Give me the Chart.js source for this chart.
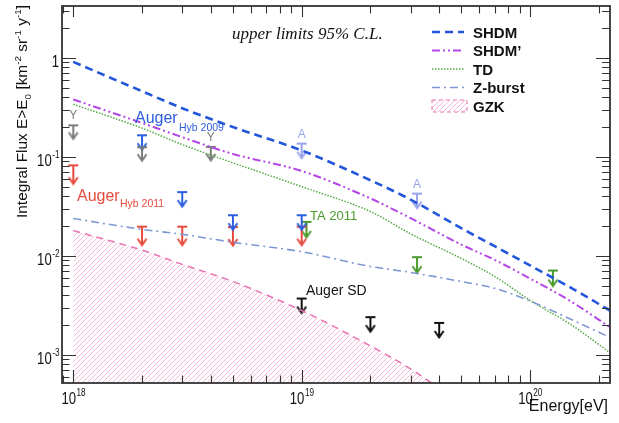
<!DOCTYPE html>
<html>
<head>
<meta charset="utf-8">
<script src="https://cdn.jsdelivr.net/npm/chart.js@4.4.1/dist/chart.umd.min.js"></script>
<style>
  html, body { margin: 0; padding: 0; background: #fff; }
  canvas { display: block; }
</style>
</head>
<body>
<canvas id="fluxChart" width="619" height="423"></canvas>
<script>
// model curves: integral flux above E0, km^-2 sr^-1 y^-1
const energy    = [1e18, 2e18, 3e18, 5e18, 1e19, 2e19, 3e19, 5e19, 7e19, 1e20, 1.5e20, 2.24e20];
const shdm      = [0.91, 0.46, 0.31, 0.20, 0.116, 0.058, 0.037, 0.019, 0.0125, 0.0080, 0.0048, 0.0028];
const shdmPrime = [0.38, 0.22, 0.158, 0.107, 0.072, 0.038, 0.024, 0.013, 0.0091, 0.0059, 0.0035, 0.0019];
const td        = [0.34, 0.195, 0.133, 0.087, 0.050, 0.028, 0.0167, 0.0094, 0.0062, 0.00355, 0.00204, 0.00105];
const zburst    = [0.0238, 0.0185, 0.0165, 0.0137, 0.011, 0.0078, 0.0068, 0.0055, 0.0047, 0.0035, 0.0023, 0.0015];
const gzkEnergy = [1e18, 2e18, 3e18, 5e18, 1e19, 2e19, 3e19, 4e19];
const gzk       = [0.018, 0.0114, 0.0082, 0.0055, 0.0028, 0.00123, 0.00072, 0.00046];

// upper limits (95% C.L.)
const yakutskE  = [1e18, 2e18, 4e18];
const yakutskF  = [0.208, 0.125, 0.126];
const hyb2009E  = [2e18, 3e18, 5e18, 1e19];
const hyb2009F  = [0.165, 0.044, 0.0257, 0.0257];
const agasaE    = [1e19, 3.2e19];
const agasaF    = [0.136, 0.0425];
const hyb2011E  = [1e18, 2e18, 3e18, 5e18, 1e19];
const hyb2011F  = [0.082, 0.0197, 0.0197, 0.0195, 0.0197];
const ta2011E   = [1.05e19, 3.2e19, 1.26e20];
const ta2011F   = [0.022, 0.0097, 0.0071];
const augerSdE  = [1e19, 2e19, 4e19];
const augerSdF  = [0.0037, 0.0024, 0.0021];

const xTicks = [1e18, 1e19, 1e20];
const xTickExp = ['18', '19', '20'];
const yTicks = [1e-3, 1e-2, 1e-1, 1];
const yTickExp = ['-3', '-2', '-1', null];
const legendLabels = ['SHDM', 'SHDM\u2019', 'TD', 'Z-burst', 'GZK'];

const SANS = '"Liberation Sans", Arial, sans-serif';

function pts(xs, ys) { return xs.map((v, i) => ({ x: v, y: ys[i] })); }

// light pink "////" hatch
function hatch(color) {
  const c = document.createElement('canvas');
  c.width = 5; c.height = 5;
  const g = c.getContext('2d');
  g.strokeStyle = color; g.lineWidth = 0.9;
  g.beginPath();
  g.moveTo(0, 5); g.lineTo(5, 0);
  g.moveTo(-1, 1); g.lineTo(1, -1);
  g.moveTo(4, 6); g.lineTo(6, 4);
  g.stroke();
  return g.createPattern(c, 'repeat');
}

// T bar at the limit with an arrow pointing down
function arrowMark(color, len) {
  const w = 14, h = 2 * len + 4;
  const c = document.createElement('canvas');
  c.width = w; c.height = h;
  const g = c.getContext('2d');
  const top = h / 2, tip = top + len;
  g.strokeStyle = color; g.lineWidth = 2;
  g.beginPath();
  g.moveTo(2, top); g.lineTo(12, top);
  g.moveTo(7, top); g.lineTo(7, tip);
  g.moveTo(2.5, tip - 7); g.lineTo(7, tip - 0.5); g.lineTo(11.5, tip - 7);
  g.stroke();
  return c;
}

function curve(label, xs, ys, color, dash, width) {
  return {
    label, data: pts(xs, ys), borderColor: color, borderDash: dash, borderWidth: width,
    pointRadius: 0, fill: false, cubicInterpolationMode: 'monotone'
  };
}

function limits(label, xs, ys, color, len, marks) {
  return {
    label, data: pts(xs, ys), showLine: false, pointRadius: 4,
    pointStyle: arrowMark(color, len), markText: marks, markColor: color
  };
}

const gzkFill = hatch('rgba(240,125,185,0.6)');

const datasets = [
  Object.assign(curve('GZK', gzkEnergy, gzk, '#e874b4', [7, 5], 1.5), { fill: 'start', backgroundColor: gzkFill }),
  curve('Z-burst', energy, zburst, '#7d97d2', [8, 4, 2, 4], 1.6),
  curve('TD', energy, td, '#55a845', [1.5, 1.5], 1.5),
  curve('SHDM\u2019', energy, shdmPrime, '#b446e6', [8, 3, 2, 3, 2, 3], 2),
  curve('SHDM', energy, shdm, '#2456dc', [8, 5], 2.6),
  limits('Yakutsk', yakutskE, yakutskF, '#7c7c7c', 14, ['Y', '', 'Y']),
  limits('Auger Hyb 2009', hyb2009E, hyb2009F, '#2c5ee0', 15),
  limits('AGASA', agasaE, agasaF, '#97a3ec', 15, ['A', 'A']),
  limits('Auger Hyb 2011', hyb2011E, hyb2011F, '#e84a3e', 19),
  limits('TA 2011', ta2011E, ta2011F, '#4b9b2c', 16),
  limits('Auger SD', augerSdE, augerSdF, '#111111', 15)
];

function text(ctx, s, x, y, font, color, align, sx) {
  ctx.save();
  ctx.font = font; ctx.fillStyle = color;
  ctx.textAlign = align || 'left'; ctx.textBaseline = 'alphabetic';
  ctx.translate(x, y); ctx.scale(sx || 1, 1);
  ctx.fillText(s, 0, 0);
  ctx.restore();
}

// "10" with a superscript exponent, anchored at x by align
function powLabel(ctx, exp, x, y, align) {
  const sx = 0.82;
  if (exp === null) { text(ctx, '1', x, y, '16px ' + SANS, '#111', align === 'center' ? 'center' : 'right', sx); return; }
  ctx.font = '16px ' + SANS; const wb = ctx.measureText('10').width * sx;
  ctx.font = '10px ' + SANS; const we = ctx.measureText(exp).width * sx;
  const x0 = align === 'center' ? x - (wb + we) / 2 : x - wb - we;
  text(ctx, '10', x0, y, '16px ' + SANS, '#111', 'left', sx);
  text(ctx, exp, x0 + wb + 0.5, y - 8, '10px ' + SANS, '#111', 'left', sx);
}

const annotations = {
  id: 'annotations',
  afterDatasetsDraw(chart) {
    const ctx = chart.ctx;
    chart.data.datasets.forEach((ds, i) => {
      if (!ds.markText) return;
      chart.getDatasetMeta(i).data.forEach((el, j) => {
        const m = ds.markText[j];
        if (m) text(ctx, m, el.x, el.y - 6, '12px ' + SANS, ds.markColor, 'center');
      });
    });
    text(ctx, 'Auger', 135, 123, '16px ' + SANS, '#2c5ee0');
    text(ctx, 'Hyb 2009', 179, 131, '10.5px ' + SANS, '#2c5ee0');
    text(ctx, 'Auger', 77, 201, '16px ' + SANS, '#e84a3e');
    text(ctx, 'Hyb 2011', 120, 207, '10.5px ' + SANS, '#e84a3e');
    text(ctx, 'TA 2011', 310, 220, '13px ' + SANS, '#4b9b2c');
    text(ctx, 'Auger SD', 306, 295, '14px ' + SANS, '#111');
    text(ctx, 'upper limits 95% C.L.', 232, 39, 'italic 17px "Liberation Serif", serif', '#111');
  }
};

const axisFrame = {
  id: 'axisFrame',
  afterDraw(chart) {
    const { ctx, chartArea: a, scales: { x, y } } = chart;
    ctx.save();
    ctx.strokeStyle = '#333';
    ctx.lineWidth = 1.1;
    ctx.beginPath();
    for (let d = 17; d <= 20; d++) {
      for (let m = 1; m <= 9; m++) {
        const v = m * Math.pow(10, d);
        if (v < x.min || v > x.max) continue;
        const px = Math.round(x.getPixelForValue(v)) + 0.5;
        ctx.moveTo(px, a.bottom); ctx.lineTo(px, a.bottom - (m === 1 ? 13 : 7.5));
        ctx.moveTo(px, a.top); ctx.lineTo(px, a.top + (m === 1 ? 11 : 7.5));
      }
    }
    for (let d = -4; d <= 0; d++) {
      for (let m = 1; m <= 9; m++) {
        const v = m * Math.pow(10, d);
        if (v < y.min || v > y.max) continue;
        const py = Math.round(y.getPixelForValue(v)) + 0.5;
        ctx.moveTo(a.left, py); ctx.lineTo(a.left + (m === 1 ? 14 : 7.5), py);
        ctx.moveTo(a.right, py); ctx.lineTo(a.right - (m === 1 ? 14 : 8), py);
      }
    }
    ctx.stroke();
    ctx.lineWidth = 1.8;
    ctx.strokeRect(a.left, a.top, a.right - a.left, a.bottom - a.top);
    ctx.restore();

    xTicks.forEach((v, i) => powLabel(ctx, xTickExp[i], x.getPixelForValue(v), a.bottom + 21, 'center'));
    yTicks.forEach((v, i) => powLabel(ctx, yTickExp[i], 59, y.getPixelForValue(v) + 9, 'right'));

    text(ctx, 'Energy[eV]', 608, 411, '16px ' + SANS, '#111', 'right');

    // y title, rotated, with sub/superscripts
    const parts = [['Integral Flux E>E', 0, 14], ['0', 4, 9], [' [km', 0, 14], ['-2', -6, 9],
                   [' sr', 0, 14], ['-1', -6, 9], [' y', 0, 14], ['-1', -6, 9], [']', 0, 14]];
    let total = 0;
    parts.forEach(p => { ctx.font = p[2] + 'px ' + SANS; total += ctx.measureText(p[0]).width; });
    const k = 213 / total;
    ctx.save();
    ctx.translate(27, 218);
    ctx.rotate(-Math.PI / 2);
    ctx.scale(k, 1);
    ctx.fillStyle = '#111';
    let cx = 0;
    parts.forEach(p => {
      ctx.font = p[2] + 'px ' + SANS;
      ctx.fillText(p[0], cx, p[1]);
      cx += ctx.measureText(p[0]).width;
    });
    ctx.restore();

    // legend
    const rows = [32, 50.5, 69, 87.5, 106];
    legendLabels.forEach((lab, i) => {
      const ds = chart.data.datasets.find(d => d.label === lab);
      const ry = rows[i];
      ctx.save();
      if (lab === 'GZK') {
        ctx.fillStyle = ds.backgroundColor;
        ctx.fillRect(432, ry - 6, 35, 12);
        ctx.strokeStyle = ds.borderColor; ctx.lineWidth = 1; ctx.setLineDash([4, 3]);
        ctx.strokeRect(432, ry - 6, 35, 12);
      } else {
        ctx.strokeStyle = ds.borderColor; ctx.lineWidth = ds.borderWidth;
        ctx.setLineDash(ds.borderDash);
        ctx.beginPath(); ctx.moveTo(432, ry); ctx.lineTo(464, ry); ctx.stroke();
      }
      ctx.restore();
      text(ctx, lab, 473, ry + 5.5, 'bold 15px ' + SANS, '#111');
    });
  }
};

new Chart(document.getElementById('fluxChart'), {
  type: 'line',
  data: { datasets },
  options: {
    responsive: false,
    animation: false,
    events: [],
    layout: { padding: { left: 62, right: 9, top: 6, bottom: 40 } },
    plugins: { legend: { display: false }, tooltip: { enabled: false } },
    scales: {
      x: { type: 'logarithmic', min: 8.925e17, max: 2.24e20, display: false },
      y: { type: 'logarithmic', min: 5.19e-4, max: 3.34, display: false }
    }
  },
  plugins: [annotations, axisFrame]
});
</script>
</body>
</html>
